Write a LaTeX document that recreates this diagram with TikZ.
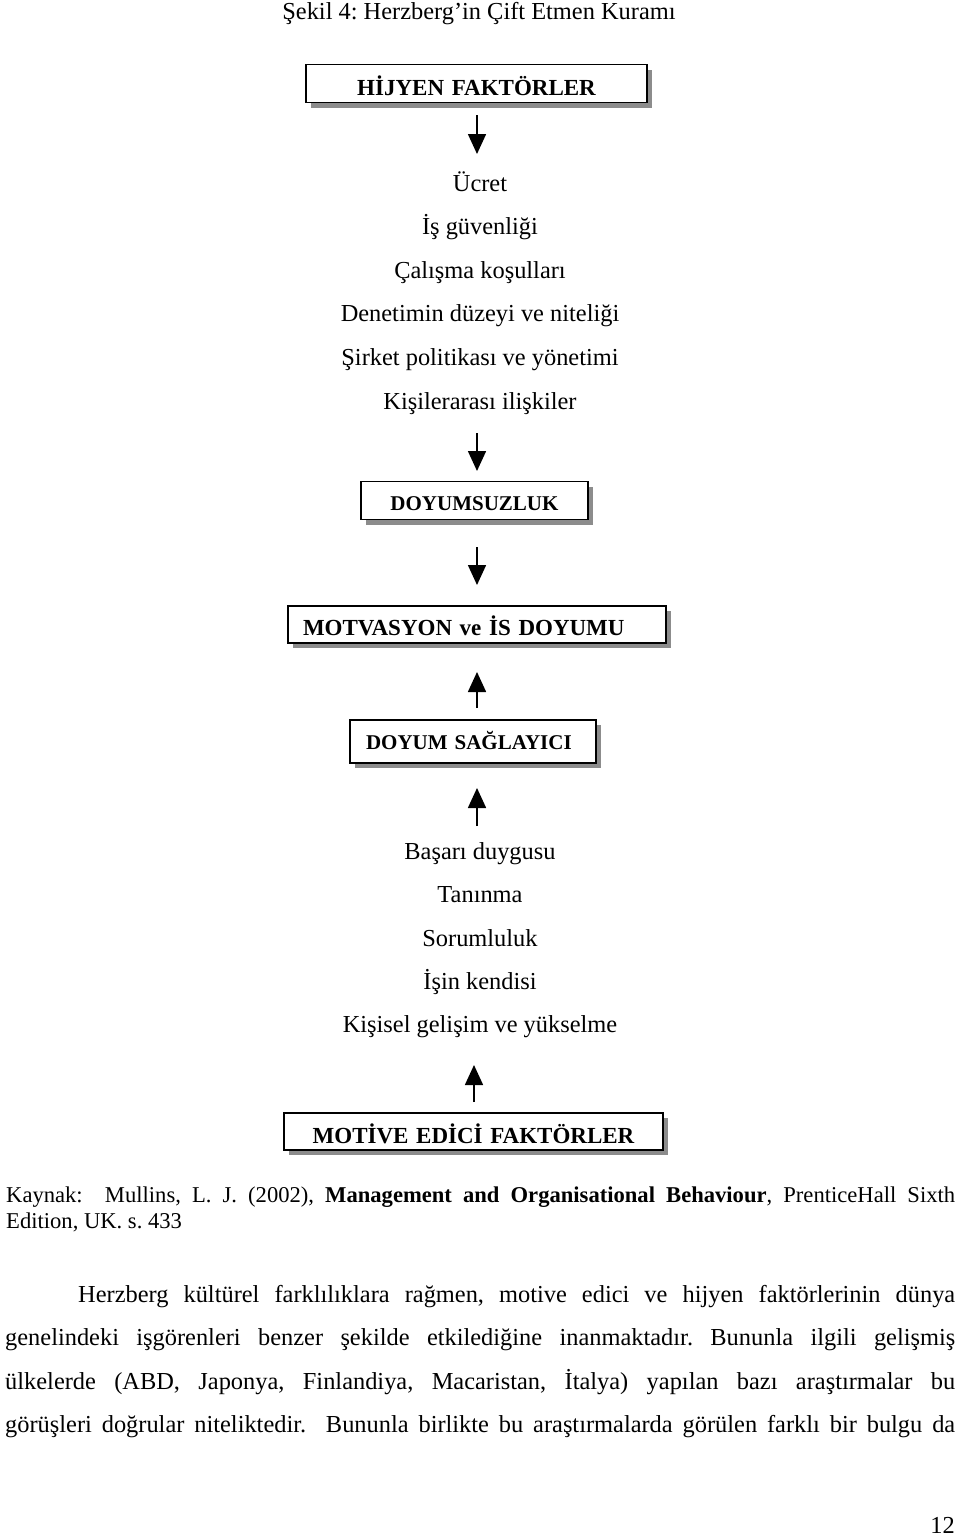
\documentclass[tikz,border=0pt]{standalone}
\usepackage{fontspec}
\setmainfont{Liberation Serif}
\usetikzlibrary{arrows.meta,shadows}
\frenchspacing
\newcommand\bodyfnt{\fontsize{24.4pt}{29pt}\selectfont}
\newcommand\srcfnt{\fontsize{22.6pt}{27pt}\selectfont}
\newcommand\boxfntA{\fontsize{23pt}{27pt}\selectfont\bfseries}
\newcommand\boxfntB{\fontsize{21pt}{25pt}\selectfont\bfseries}
\tikzset{
  hbox/.style={draw=black, line width=1.8pt, fill=white, inner ysep=0pt, text depth=0pt,
    drop shadow={shadow xshift=5pt, shadow yshift=-5pt, fill=black!45, opacity=1}},
  flow/.style={line width=1.6pt, -{Triangle[length=20pt,width=18pt]}},
  listitem/.style={anchor=base, inner sep=0pt, font=\bodyfnt},
  line/.style={anchor=base west, inner sep=0pt},
}
\begin{document}
\begin{tikzpicture}[x=1pt,y=-1pt]
\useasboundingbox (0,0) rectangle (960,1537);
\fill[white] (0,0) rectangle (960,1537);

\node[listitem] (title) at (479,19.5) {Şekil 4: Herzberg’in Çift Etmen Kuramı};

\node[hbox, font=\boxfntA, minimum height=38pt, text width=341pt, inner xsep=0pt, align=center, text height=23pt] (hijyen) at (476.5,83.5) {HİJYEN FAKTÖRLER};

\coordinate (a1s) at (477,115); \coordinate (a1e) at (477,154);
\draw[flow] (a1s) -- (a1e);

\node[listitem] (h1) at (480,191) {Ücret};
\node[listitem] (h2) at (480,234.6) {İş güvenliği};
\node[listitem] (h3) at (480,278.2) {Çalışma koşulları};
\node[listitem] (h4) at (480,321.8) {Denetimin düzeyi ve niteliği};
\node[listitem] (h5) at (480,365.4) {Şirket politikası ve yönetimi};
\node[listitem] (h6) at (480,409) {Kişilerarası ilişkiler};

\coordinate (a2s) at (477,433); \coordinate (a2e) at (477,471);
\draw[flow] (a2s) -- (a2e);

\node[hbox, font=\boxfntB, minimum height=38pt, text width=227pt, inner xsep=0pt, align=center, text height=20pt] (doyumsuz) at (474.5,500.5) {DOYUMSUZLUK};

\coordinate (a3s) at (477,547); \coordinate (a3e) at (477,585);
\draw[flow] (a3s) -- (a3e);

\node[hbox, font=\boxfntA, minimum height=37.5pt, text width=348pt, inner xsep=15pt, align=left, text height=21pt] (motivasyon) at (477,624.5) {MOTVASYON ve İS DOYUMU};

\coordinate (a4s) at (477,708); \coordinate (a4e) at (477,672);
\draw[flow] (a4s) -- (a4e);

\node[hbox, font=\boxfntB, minimum height=43pt, text width=214pt, inner xsep=16pt, align=left, text height=14.6pt] (saglayici) at (473,741.7) {DOYUM SAĞLAYICI};

\coordinate (a5s) at (477,826); \coordinate (a5e) at (477,788);
\draw[flow] (a5s) -- (a5e);

\node[listitem] (m1) at (480,859.3) {Başarı duygusu};
\node[listitem] (m2) at (480,902.6) {Tanınma};
\node[listitem] (m3) at (480,946) {Sorumluluk};
\node[listitem] (m4) at (480,989.3) {İşin kendisi};
\node[listitem] (m5) at (480,1032.6) {Kişisel gelişim ve yükselme};

\coordinate (a6s) at (474,1102); \coordinate (a6e) at (474,1065);
\draw[flow] (a6s) -- (a6e);

\node[hbox, font=\boxfntA, minimum height=37.5pt, text width=379pt, inner xsep=0pt, align=center, text height=25pt] (motive) at (473.5,1131.4) {MOTİVE EDİCİ FAKTÖRLER};

\node[line, font=\srcfnt] (src1) at (6,1202.3) {\makebox[949pt][s]{Kaynak:\ \ Mullins, L. J. (2002), \textbf{Management and Organisational Behaviour}, PrenticeHall Sixth}};
\node[line, font=\srcfnt] (src2) at (6,1228.3) {Edition, UK. s. 433};

\node[line, font=\bodyfnt] (p1) at (78,1302.5) {\makebox[877pt][s]{Herzberg kültürel farklılıklara rağmen, motive edici ve hijyen faktörlerinin dünya}};
\node[line, font=\bodyfnt] (p2) at (5,1345.9) {\makebox[950pt][s]{genelindeki işgörenleri benzer şekilde etkilediğine inanmaktadır. Bununla ilgili gelişmiş}};
\node[line, font=\bodyfnt] (p3) at (5,1389.3) {\makebox[950pt][s]{ülkelerde (ABD, Japonya, Finlandiya, Macaristan, İtalya) yapılan bazı araştırmalar bu}};
\node[line, font=\bodyfnt] (p4) at (5,1432.7) {\makebox[950pt][s]{görüşleri doğrular niteliktedir.\ \ Bununla birlikte bu araştırmalarda görülen farklı bir bulgu da}};

\node[anchor=base east, inner sep=0pt, font=\bodyfnt] (pnum) at (955,1533) {12};
\end{tikzpicture}
\end{document}
